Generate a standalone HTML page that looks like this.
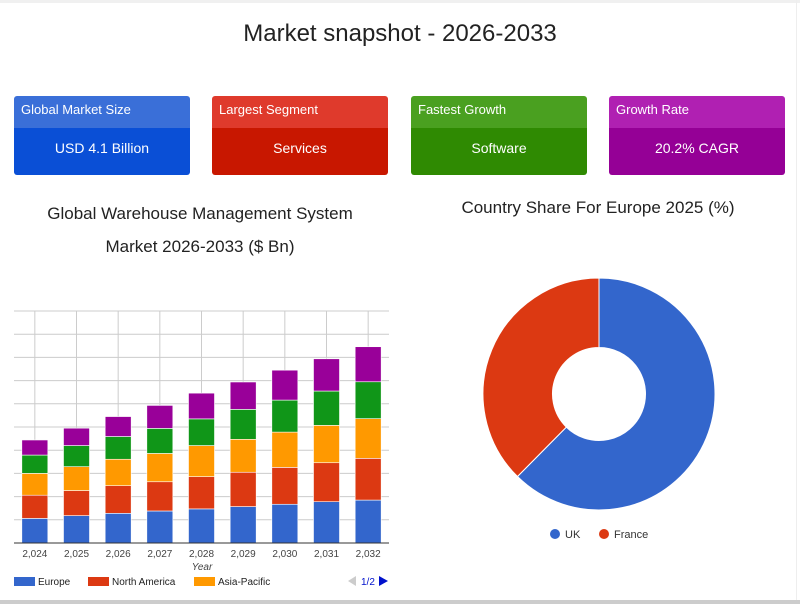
<!DOCTYPE html>
<html><head><meta charset="utf-8"><style>
body{margin:0;width:800px;height:612px;background:#fff;font-family:"Liberation Sans",sans-serif;position:relative;overflow:hidden}
.abs{position:absolute}
.card{position:absolute;top:96px;width:176px;height:79px;border-radius:3px;overflow:hidden;color:#fff}
.card .h{height:32px;font-size:13px;line-height:28px;padding-left:7px}
.card .b{height:47px;font-size:14px;line-height:40px;text-align:center}
.title{position:absolute;color:#222;text-align:center}
</style></head><body>
<div class="abs" style="left:0;top:0;width:800px;height:3px;background:#f0f0f0"></div>
<div class="title" style="left:0;top:20px;width:800px;font-size:24px">Market snapshot - 2026-2033</div>

<div class="card" style="left:14px"><div class="h" style="background:#3a6fd8">Global Market Size</div><div class="b" style="background:#0a4fd6">USD 4.1 Billion</div></div>
<div class="card" style="left:212px"><div class="h" style="background:#df3a2c">Largest Segment</div><div class="b" style="background:#c81700">Services</div></div>
<div class="card" style="left:411px"><div class="h" style="background:#4aa020">Fastest Growth</div><div class="b" style="background:#2f8a02">Software</div></div>
<div class="card" style="left:609px"><div class="h" style="background:#b020b2">Growth Rate</div><div class="b" style="background:#950096">20.2% CAGR</div></div>

<div class="title" style="left:0;top:197px;width:400px;font-size:17px;line-height:33px">Global Warehouse Management System<br>Market 2026-2033 ($ Bn)</div>
<div class="title" style="left:398px;top:197px;width:400px;font-size:17px;line-height:22px">Country Share For Europe 2025 (%)</div>

<svg id="bar" class="abs" style="left:0;top:0" width="400" height="612"></svg>
<svg id="donut" class="abs" style="left:400px;top:0" width="400" height="612"></svg>
<div class="abs" style="left:796px;top:0;width:1px;height:600px;background:#eee"></div>
<div class="abs" style="left:0;top:600px;width:800px;height:4px;background:#ccc"></div>

<script>
const years=["2,024","2,025","2,026","2,027","2,028","2,029","2,030","2,031","2,032"];
const europe=[1.06,1.18,1.28,1.38,1.47,1.57,1.67,1.78,1.85];
const northAmerica=[1.0,1.08,1.19,1.26,1.39,1.48,1.59,1.68,1.80];
const asiaPacific=[0.94,1.03,1.14,1.22,1.34,1.42,1.52,1.61,1.71];
const latinAmerica=[0.79,0.91,0.98,1.08,1.15,1.29,1.38,1.48,1.59];
const mea=[0.65,0.75,0.86,0.99,1.11,1.18,1.29,1.39,1.51];
const seriesNames=["Europe","North America","Asia-Pacific","Latin America","Middle East & Africa"];
const colors=["#3366cc","#dc3912","#ff9900","#109618","#990099"];
const shareLabels=["UK","France"];
const shareValues=[62.4,37.6];
const shareColors=["#3366cc","#dc3912"];

const NS="http://www.w3.org/2000/svg";
function mk(p,t,a){const e=document.createElementNS(NS,t);for(const k in a)e.setAttribute(k,a[k]);p.appendChild(e);return e;}
// bar chart
const svg=document.getElementById('bar');
const X0=14,X1=389,Y0=543,YT=311,yMax=10;
const bw=(X1-X0)/years.length;
const xc=i=>X0+bw*(i+0.5);
const y=v=>Y0-(v/yMax)*(Y0-YT);
for(let g=0;g<=10;g++){const l=mk(svg,'line',{x1:X0,x2:X1,y1:y(g),y2:y(g),stroke:'#ccc','stroke-width':1});

}
years.forEach((yr,i)=>{const l=mk(svg,'line',{x1:xc(i),x2:xc(i),y1:YT,y2:Y0,stroke:'#ccc','stroke-width':1});

});
const series=[europe,northAmerica,asiaPacific,latinAmerica,mea];
years.forEach((yr,i)=>{let acc=0;series.forEach((s,k)=>{const r=mk(svg,'rect',{x:xc(i)-13,width:26,y:y(acc+s[i]),height:y(acc)-y(acc+s[i]),fill:colors[k],stroke:'#fff','stroke-width':0.6});


acc+=s[i];});
const t=mk(svg,'text',{x:xc(i),y:557,'font-size':10,fill:'#444','text-anchor':'middle'});t.textContent=yr;

});
mk(svg,'line',{x1:X0,x2:X1,y1:Y0,y2:Y0,stroke:'#333','stroke-width':1});
const xt=mk(svg,'text',{x:202,y:570,'font-size':10,'font-style':'italic',fill:'#444','text-anchor':'middle'});xt.textContent='Year';


const lx=[14,88,194];
[0,1,2].forEach(k=>{const r=mk(svg,'rect',{x:lx[k],y:577,width:21,height:9,fill:colors[k]});


const t=mk(svg,'text',{x:lx[k]+24,y:585,'font-size':10,fill:'#222'});t.textContent=seriesNames[k];

});
const pa=mk(svg,'path',{d:'M348 581 L356 576 L356 586 Z',fill:'#ccc'});


const pt=mk(svg,'text',{x:361,y:585,'font-size':10,fill:'#0011cc'});pt.textContent='1/2';


const na=mk(svg,'path',{d:'M379 576 L388 581 L379 586 Z',fill:'#0011cc'});



// donut
const d=document.getElementById('donut');
const cx=199,cy=394,R=116,r0=46.5;
const tot=shareValues.reduce((a,b)=>a+b,0);
let ang=0;
function pt2(a,rr){return [cx+rr*Math.sin(a),cy-rr*Math.cos(a)];}
shareValues.forEach((v,k)=>{const a0=ang,a1=ang+v/tot*2*Math.PI;ang=a1;
const lg=(a1-a0)>Math.PI?1:0;
const [x1,y1]=pt2(a0,R),[x2,y2]=pt2(a1,R),[x3,y3]=pt2(a1,r0),[x4,y4]=pt2(a0,r0);
const p=mk(d,'path',{d:`M${x1} ${y1} A${R} ${R} 0 ${lg} 1 ${x2} ${y2} L${x3} ${y3} A${r0} ${r0} 0 ${lg} 0 ${x4} ${y4} Z`,fill:shareColors[k],stroke:'#fff','stroke-width':1});

});
const dlx=[155,204];
shareLabels.forEach((l,k)=>{const c=mk(d,'circle',{cx:dlx[k],cy:534,r:5,fill:shareColors[k]});


const t=mk(d,'text',{x:dlx[k]+10,y:538,'font-size':11,fill:'#333'});t.textContent=l;

});
</script>
</body></html>
